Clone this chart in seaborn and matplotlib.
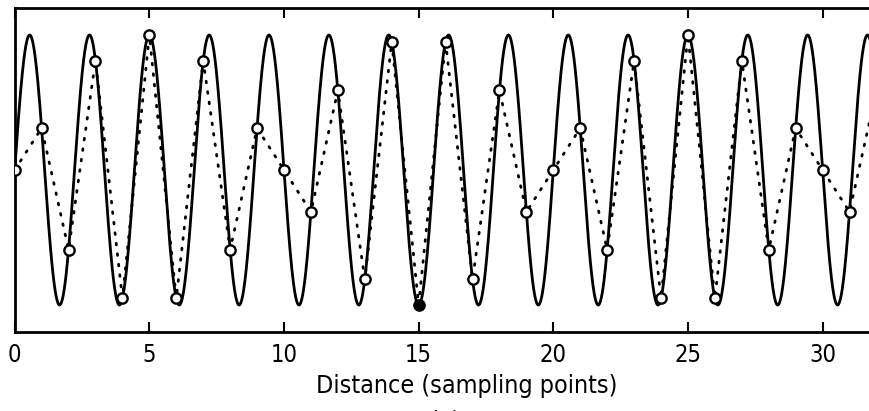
import numpy as np
import pandas as pd
import seaborn as sns
import matplotlib
matplotlib.use("Agg")
import matplotlib.pyplot as plt
from matplotlib import font_manager

# ---- data ----
sample_index = list(range(33))
sample_values = [0.00, 0.31, -0.59, 0.81, -0.95, 1.00, -0.95, 0.81, -0.59, 0.31,
                 0.00, -0.31, 0.59, -0.81, 0.95, -1.00, 0.95, -0.81, 0.59, -0.31,
                 0.00, 0.31, -0.59, 0.81, -0.95, 1.00, -0.95, 0.81, -0.59, 0.31,
                 0.00, -0.31, 0.59]
filled_samples = [15]
# continuous signal: sinusoid, 0.45 cycles per sampling point, unit amplitude
signal_freq = 0.45
signal_amp = 1.0
x_ticks = [0, 5, 10, 15, 20, 25, 30]
x_label = "Distance (sampling points)"
panel_label = "(a)"

sns.set_style("ticks")

# look for an installed condensed / narrow sans face
narrow = None
for f in font_manager.fontManager.ttflist:
    nm = (f.name + " " + f.fname).lower()
    if (("narrow" in nm or "condensed" in nm) and "bold" not in nm.split("/")[-1]
            and "oblique" not in nm and "italic" not in nm and "mono" not in nm
            and "serif" not in nm.replace("sans-serif", "")):
        if narrow is None or "liberation" in nm:
            narrow = f.fname
if narrow is not None:
    fp_tick = font_manager.FontProperties(fname=narrow, size=17)
    fp_lab = font_manager.FontProperties(fname=narrow, size=18)
else:
    fp_tick = font_manager.FontProperties(family=["Liberation Sans", "DejaVu Sans"], size=16)
    fp_lab = font_manager.FontProperties(family=["Liberation Sans", "DejaVu Sans"], size=16.5)
plt.rcParams["font.family"] = ["Liberation Sans", "DejaVu Sans"]

fig = plt.figure(figsize=(8.7, 4.11), dpi=100)
ax = fig.add_axes([0.0169, 0.1922, 0.9831, 0.7883])

t = np.linspace(0, 32, 3000)
cont = pd.DataFrame({"x": t, "y": signal_amp * np.sin(2 * np.pi * signal_freq * t)})
samp = pd.DataFrame({"x": sample_index, "y": sample_values})

sns.lineplot(data=cont, x="x", y="y", ax=ax, color="black", lw=2.0, sort=False)
sns.lineplot(data=samp, x="x", y="y", ax=ax, color="black", lw=2.0,
             linestyle=(0, (0.6, 3.2)), dash_capstyle="round", sort=False)
open_s = samp[~samp["x"].isin(filled_samples)]
fill_s = samp[samp["x"].isin(filled_samples)]
sns.scatterplot(data=open_s, x="x", y="y", ax=ax, s=55, facecolor="white",
                edgecolor="black", linewidth=1.7, zorder=5)
sns.scatterplot(data=fill_s, x="x", y="y", ax=ax, s=55, facecolor="black",
                edgecolor="black", linewidth=1.7, zorder=5)

ax.set_xlim(0, 31.76)
ax.set_ylim(-1.2, 1.2)
ax.set_xticks(x_ticks)
ax.set_xticklabels([str(v) for v in x_ticks], fontproperties=fp_tick, color="black")
ax.set_yticks([])
ax.tick_params(axis="x", direction="in", length=7, width=1.5, top=True,
               pad=8, colors="black")
for side in ["left", "top", "bottom"]:
    ax.spines[side].set_linewidth(2.0)
    ax.spines[side].set_color("black")
ax.spines["right"].set_visible(False)
ax.set_xlabel(x_label, fontproperties=fp_lab, color="black")
ax.xaxis.set_label_coords(0.528, -0.13)
ax.xaxis.label.set_va("top")
ax.set_ylabel("")
fig.text(0.511, -0.025, panel_label, ha="center", va="center",
         fontproperties=fp_lab, color="black")

fig.savefig("out.png", dpi=100)
